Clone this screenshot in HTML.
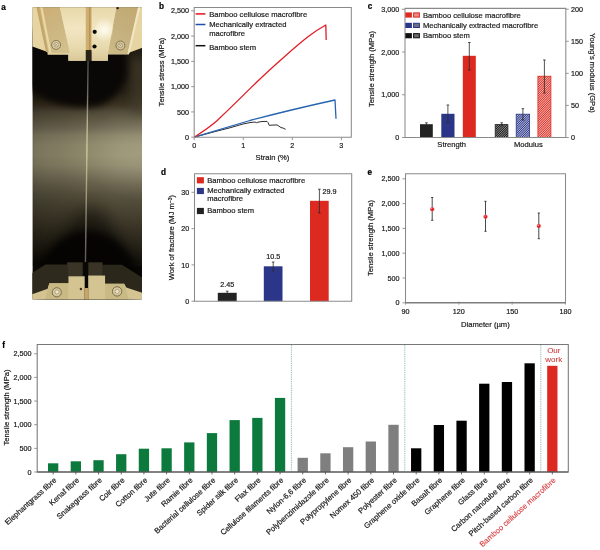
<!DOCTYPE html>
<html lang="en">
<head>
<meta charset="utf-8">
<title>Figure: tensile properties of bamboo cellulose macrofibre</title>
<style>
html,body{margin:0;padding:0;background:#fff;}
body{width:600px;height:550px;overflow:hidden;}
svg{display:block;font-family:"Liberation Sans",Arial,Helvetica,sans-serif;font-size:7.6px;fill:#1a1a1a;}
text{stroke:#1a1a1a;stroke-width:0.2px;}
</style>
</head>
<body>
<svg width="600" height="550" viewBox="0 0 600 550" role="img" aria-label="Mechanical properties of bamboo cellulose macrofibre">
<defs>
<pattern id="hr" width="1.6" height="1.6" patternUnits="userSpaceOnUse" patternTransform="rotate(-45)"><rect width="1.6" height="1.6" fill="#f6c4c0"/><rect width="1.6" height="0.85" fill="#dc2a20"/></pattern>
<pattern id="hb" width="1.6" height="1.6" patternUnits="userSpaceOnUse" patternTransform="rotate(-45)"><rect width="1.6" height="1.6" fill="#c3c6e2"/><rect width="1.6" height="0.85" fill="#2b3688"/></pattern>
<pattern id="hk" width="1.6" height="1.6" patternUnits="userSpaceOnUse" patternTransform="rotate(-45)"><rect width="1.6" height="1.6" fill="#a8a8a8"/><rect width="1.6" height="0.95" fill="#161616"/></pattern>
<clipPath id="pc"><rect x="32.4" y="7.2" width="109.6" height="292.4"/></clipPath>
<linearGradient id="pbg" x1="0" y1="7.2" x2="0" y2="299.6" gradientUnits="userSpaceOnUse">
<stop offset="0.000" stop-color="#1a150c"/>
<stop offset="0.249" stop-color="#1a150c"/>
<stop offset="0.290" stop-color="#1f190f"/>
<stop offset="0.317" stop-color="#2a2416"/>
<stop offset="0.334" stop-color="#352c1d"/>
<stop offset="0.358" stop-color="#4c4635"/>
<stop offset="0.386" stop-color="#5d5742"/>
<stop offset="0.413" stop-color="#6c6652"/>
<stop offset="0.437" stop-color="#807a60"/>
<stop offset="0.471" stop-color="#8d876a"/>
<stop offset="0.505" stop-color="#8f896b"/>
<stop offset="0.540" stop-color="#878165"/>
<stop offset="0.574" stop-color="#756f58"/>
<stop offset="0.608" stop-color="#635d48"/>
<stop offset="0.642" stop-color="#534e3b"/>
<stop offset="0.676" stop-color="#484331"/>
<stop offset="0.728" stop-color="#3a3425"/>
<stop offset="0.769" stop-color="#2d281b"/>
<stop offset="0.830" stop-color="#1a170e"/>
<stop offset="0.871" stop-color="#0c0a06"/>
<stop offset="1.000" stop-color="#0a0805"/>
</linearGradient>
<linearGradient id="pfib" x1="0" y1="58" x2="0" y2="275" gradientUnits="userSpaceOnUse">
<stop offset="0" stop-color="#4c4c4c"/>
<stop offset="0.15" stop-color="#666664"/>
<stop offset="0.22" stop-color="#8a8676"/>
<stop offset="0.3" stop-color="#bcb290"/>
<stop offset="0.42" stop-color="#d2c6a0"/>
<stop offset="0.56" stop-color="#b4a882"/>
<stop offset="0.66" stop-color="#9a9074"/>
<stop offset="0.76" stop-color="#807868"/>
<stop offset="0.86" stop-color="#6a6462"/>
<stop offset="1" stop-color="#5a5654"/>
</linearGradient>
<linearGradient id="pside" x1="32.4" y1="0" x2="142" y2="0" gradientUnits="userSpaceOnUse">
<stop offset="0" stop-color="#000" stop-opacity="0.24"/>
<stop offset="0.02" stop-color="#000" stop-opacity="0.16"/>
<stop offset="0.115" stop-color="#000" stop-opacity="0.12"/>
<stop offset="0.27" stop-color="#000" stop-opacity="0.08"/>
<stop offset="0.5" stop-color="#000" stop-opacity="0"/>
<stop offset="0.5" stop-color="#fff8d8" stop-opacity="0"/>
<stop offset="0.75" stop-color="#fff8d8" stop-opacity="0.035"/>
<stop offset="1" stop-color="#fff8d8" stop-opacity="0.035"/>
</linearGradient>
<radialGradient id="prh" cx="0" cy="0" r="1" gradientUnits="userSpaceOnUse" gradientTransform="translate(146 153) scale(64 48)">
<stop offset="0" stop-color="#fff8d8" stop-opacity="0.15"/>
<stop offset="0.35" stop-color="#fff8d8" stop-opacity="0.12"/>
<stop offset="0.7" stop-color="#fff8d8" stop-opacity="0.05"/>
<stop offset="1" stop-color="#fff8d8" stop-opacity="0"/>
</radialGradient>
<linearGradient id="pjaw" x1="0" y1="7" x2="0" y2="61" gradientUnits="userSpaceOnUse">
<stop offset="0" stop-color="#e8d8aa"/>
<stop offset="0.4" stop-color="#f2e6c2"/>
<stop offset="0.75" stop-color="#e8daae"/>
<stop offset="1" stop-color="#d9c898"/>
</linearGradient>
<radialGradient id="phl" cx="104" cy="30" r="12" gradientUnits="userSpaceOnUse">
<stop offset="0" stop-color="#fffdf0" stop-opacity="0.95"/>
<stop offset="1" stop-color="#fffdf0" stop-opacity="0"/>
</radialGradient>
<filter id="pbl" color-interpolation-filters="sRGB" x="-5%" y="-5%" width="110%" height="110%"><feGaussianBlur stdDeviation="0.45"/></filter>
<linearGradient id="ppl" x1="40" y1="7" x2="70" y2="54" gradientUnits="userSpaceOnUse">
<stop offset="0" stop-color="#cdae74"/>
<stop offset="0.5" stop-color="#ccb682"/>
<stop offset="1" stop-color="#d3c28f"/>
</linearGradient>
<linearGradient id="ppr" x1="138" y1="7" x2="108" y2="54" gradientUnits="userSpaceOnUse">
<stop offset="0" stop-color="#c2a870"/>
<stop offset="0.5" stop-color="#c4b07e"/>
<stop offset="1" stop-color="#cdbb88"/>
</linearGradient>
<filter id="pbl3" color-interpolation-filters="sRGB" x="-40%" y="-40%" width="180%" height="180%"><feGaussianBlur stdDeviation="8"/></filter>
<filter id="pbl4" color-interpolation-filters="sRGB" x="-30%" y="-30%" width="160%" height="160%"><feGaussianBlur stdDeviation="3"/></filter>
<filter id="pbl5" color-interpolation-filters="sRGB" x="-30%" y="-30%" width="160%" height="160%"><feGaussianBlur stdDeviation="4.5"/></filter>

</defs>
<rect width="600" height="550" fill="#fff"/>
<text x="1.20" y="9.60" font-weight="bold" fill="#000" style="stroke:#000;stroke-width:0.22px" font-size="8.2" >a</text>
<text x="159.00" y="8.70" font-weight="bold" fill="#000" style="stroke:#000;stroke-width:0.22px" font-size="8.2" >b</text>
<text x="367.80" y="8.70" font-weight="bold" fill="#000" style="stroke:#000;stroke-width:0.22px" font-size="8.2" >c</text>
<text x="160.90" y="174.80" font-weight="bold" fill="#000" style="stroke:#000;stroke-width:0.22px" font-size="8.2" >d</text>
<text x="367.40" y="174.60" font-weight="bold" fill="#000" style="stroke:#000;stroke-width:0.22px" font-size="8.2" >e</text>
<text x="2.30" y="347.90" font-weight="bold" fill="#000" style="stroke:#000;stroke-width:0.22px" font-size="8.2" >f</text>
<g clip-path="url(#pc)">
<rect x="32.4" y="7.2" width="109.6" height="292.4" fill="url(#pbg)"/>
<rect x="32.4" y="46" width="109.6" height="220" fill="url(#pside)"/>
<rect x="82" y="100" width="60" height="106" fill="url(#prh)"/>
<rect x="130" y="58" width="20" height="56" fill="#463f2e" opacity="0.6" filter="url(#pbl5)"/>
<path d="M28 30 V86 Q45 107 88 107 Q116 106 127 76 V30 Z" fill="#0a0806" filter="url(#pbl4)"/>
<ellipse cx="91" cy="290" rx="34" ry="82" fill="#050403" opacity="0.5" filter="url(#pbl3)"/>
<ellipse cx="88" cy="290" rx="52" ry="59" fill="#050403" filter="url(#pbl5)"/>
<g filter="url(#pbl)">
<!-- fibre -->
<path d="M87.4 58 L84.6 274 L86.0 274 L88.8 58 Z" fill="url(#pfib)"/>
<!-- top clamp: outer cream -->
<path d="M31 6 H143 V47.6 L129.6 52.5 L129 54.5 L108 54.5 L107.8 60.7 L91.5 60.7 L91.5 52 L85.8 52 L85.8 60.7 L68.4 60.7 L68.4 54.7 L47.6 54.7 L47.6 52 L31 46 Z" fill="#e6d4a2"/>
<!-- angled plates -->
<path d="M41 6 L59.6 6 L70 53.5 L47.6 53 L38 6 Z" fill="url(#ppl)"/>
<path d="M40 6 L42.2 6 L51.5 53 L49.3 53 Z" fill="#ead8a4"/>
<path d="M36.2 6 L38.6 6 L48.2 52 L46 52 Z" fill="#c4a468"/>
<path d="M116.5 6 L138.4 6 L127.5 54 L107.8 54 Z" fill="url(#ppr)"/>
<path d="M138.4 6 L140.6 6 L130 52 L127.5 54 Z" fill="#f0e6c4"/>
<!-- central jaws -->
<path d="M59.6 6 L85.8 6 L85.8 60.7 L68.4 60.7 L68.4 53 L70 53 Z" fill="url(#pjaw)"/>
<path d="M91.5 6 L116.5 6 L107.8 54 L107.8 60.7 L91.5 60.7 Z" fill="url(#pjaw)"/>
<rect x="85.8" y="6" width="5.7" height="50" fill="#cfae70"/>
<rect x="89.3" y="6" width="1" height="50" fill="#a88a50"/>
<rect x="85.8" y="50" width="5.7" height="11" fill="#2a2418"/>
<ellipse cx="104" cy="30" rx="9" ry="13" fill="url(#phl)"/>
<ellipse cx="76" cy="30" rx="9" ry="16" fill="url(#phl)" transform="translate(-28 0)" opacity="0.6"/>
<!-- holes -->
<circle cx="94.7" cy="31.8" r="2.1" fill="#0c0a06"/>
<circle cx="94.5" cy="46.5" r="2.1" fill="#0c0a06"/>
<circle cx="117.6" cy="8" r="1.2" fill="#1a160c"/>
<!-- screws -->
<circle cx="56.1" cy="44.9" r="4.5" fill="#d6caa2" stroke="#8c7a50" stroke-width="1"/>
<circle cx="56.3" cy="44.8" r="2.3" fill="#ece2c4" stroke="#9a8a60" stroke-width="0.7"/>
<path d="M55 43.6 L57.6 46 M57.4 43.6 L55.2 46" stroke="#8c7a50" stroke-width="0.6" fill="none"/>
<circle cx="120.4" cy="45.5" r="4.5" fill="#d0c49c" stroke="#85744a" stroke-width="1"/>
<circle cx="120.2" cy="45.4" r="2.3" fill="#ece2c4" stroke="#9a8a60" stroke-width="0.7"/>
<path d="M119 44.2 L121.6 46.6 M121.4 44.2 L119.2 46.6" stroke="#85744a" stroke-width="0.6" fill="none"/>
<!-- shadow under top clamp edge -->
<!-- bottom dark blocks -->
<path d="M32 273 L45.5 264.4 L67.3 264.4 L67.3 262.5 L82.8 262.5 L82.8 276.2 L68.4 276.2 L68.4 283.3 L49.3 283.3 L47.6 288.7 L32 294.2 Z" fill="#2e2a1e"/>
<path d="M88.2 262.5 L102.4 262.5 L102.4 264.7 L122 264.7 L143 278 L143 293 L126.4 287.6 L124.2 283.8 L105.1 283.8 L105.1 275.6 L88.2 275.6 Z" fill="#2b271b"/>
<path d="M67.3 262.5 H82.8 V276.2 H68.4 Z" fill="#3a3427"/>
<path d="M88.2 262.5 H102.4 V275.6 H88.2 Z" fill="#3a3427"/>
<rect x="82.8" y="262" width="5.4" height="38" fill="#0a0805"/>
<!-- bottom beige -->
<path d="M32 294.2 L47.6 288.7 L49.3 283.3 L68.4 283.3 L68.4 276.2 L84.7 276.2 L84.7 300 L32 300 Z" fill="#d4c492"/>
<path d="M88.2 275.6 L105.1 275.6 L105.1 283.8 L124.2 283.8 L126.4 287.6 L143 293 L143 300 L88.2 300 Z" fill="#d4c492"/>
<path d="M49.3 283.3 H68.4 V300 H45 Z" fill="#c9b985"/>
<path d="M105.1 283.8 H124.2 L129 300 H105.1 Z" fill="#c9b985"/>
<rect x="84.7" y="288" width="3.5" height="12" fill="#c9a468"/>
<circle cx="56.8" cy="292.3" r="4.6" fill="#d4c8a0" stroke="#7c6c48" stroke-width="1"/>
<circle cx="57" cy="292" r="2" fill="#f0e8cc" stroke="#9a8a60" stroke-width="0.6"/>
<circle cx="117.1" cy="291.4" r="4.7" fill="#d4c8a0" stroke="#7c6c48" stroke-width="1"/>
<circle cx="117.1" cy="291.5" r="2" fill="#f0e8cc" stroke="#9a8a60" stroke-width="0.6"/>
<circle cx="80.9" cy="289" r="1.2" fill="#3a3020"/>
</g>
</g>

<path d="M194.2 137.2 L215 131.6 L230 127.8 L243 124 L250 122.6 L255 122 L256.5 122.7 L258 122.2 L262 121.5 L267 121.4 L268 122.5 L269.2 125.3 L271 125.2 L277 124.9 L279 126.2 L281 127.6 L283 128 L285.6 129.3" fill="none" stroke="#2e2e2e" stroke-width="1" stroke-linejoin="round"/>
<path d="M194.2 137.2 C215 131 235 125 250 120.5 C280 112.5 310 105.5 335 100 L336 118.7" fill="none" stroke="#2763b0" stroke-width="1.3" stroke-linejoin="round"/>
<path d="M194.2 137.2 C203 131.6 210 126.8 216.7 121 C228 110.2 240 98.6 250 88.6 C262 77 272 67.6 283.3 57.8 C292 50 300 43 308.3 36.6 C314 32 320 28.2 325.8 25 L326.2 40" fill="none" stroke="#e01c26" stroke-width="1.3" stroke-linejoin="round"/>
<path d="M194.20 137.20V7.50M194.20 7.50H351.30M351.30 7.50V137.20M194.20 137.20H351.30" fill="none" stroke="#8a8a8a" stroke-width="1.05" stroke-linecap="square"/>
<line x1="191.20" y1="137.20" x2="194.20" y2="137.20" stroke="#8a8a8a" stroke-width="0.9" />
<text x="189.00" y="139.80" text-anchor="end" font-size="7.2" >0</text>
<line x1="191.20" y1="111.92" x2="194.20" y2="111.92" stroke="#8a8a8a" stroke-width="0.9" />
<text x="189.00" y="114.52" text-anchor="end" font-size="7.2" >500</text>
<line x1="191.20" y1="86.64" x2="194.20" y2="86.64" stroke="#8a8a8a" stroke-width="0.9" />
<text x="189.00" y="89.24" text-anchor="end" font-size="7.2" >1,000</text>
<line x1="191.20" y1="61.36" x2="194.20" y2="61.36" stroke="#8a8a8a" stroke-width="0.9" />
<text x="189.00" y="63.96" text-anchor="end" font-size="7.2" >1,500</text>
<line x1="191.20" y1="36.08" x2="194.20" y2="36.08" stroke="#8a8a8a" stroke-width="0.9" />
<text x="189.00" y="38.68" text-anchor="end" font-size="7.2" >2,000</text>
<line x1="191.20" y1="10.80" x2="194.20" y2="10.80" stroke="#8a8a8a" stroke-width="0.9" />
<text x="189.00" y="13.40" text-anchor="end" font-size="7.2" >2,500</text>
<line x1="194.20" y1="137.20" x2="194.20" y2="140.20" stroke="#8a8a8a" stroke-width="0.9" />
<text x="194.20" y="147.50" text-anchor="middle" font-size="7.2" >0</text>
<line x1="243.25" y1="137.20" x2="243.25" y2="140.20" stroke="#8a8a8a" stroke-width="0.9" />
<text x="243.25" y="147.50" text-anchor="middle" font-size="7.2" >1</text>
<line x1="292.30" y1="137.20" x2="292.30" y2="140.20" stroke="#8a8a8a" stroke-width="0.9" />
<text x="292.30" y="147.50" text-anchor="middle" font-size="7.2" >2</text>
<line x1="341.35" y1="137.20" x2="341.35" y2="140.20" stroke="#8a8a8a" stroke-width="0.9" />
<text x="341.35" y="147.50" text-anchor="middle" font-size="7.2" >3</text>
<text transform="translate(164.40 72.00) rotate(-90)" text-anchor="middle" >Tensile stress (MPa)</text>
<text x="272.50" y="159.60" text-anchor="middle" >Strain (%)</text>
<line x1="195.60" y1="13.90" x2="205.40" y2="13.90" stroke="#e3141e" stroke-width="1.5" />
<line x1="195.60" y1="24.50" x2="205.40" y2="24.50" stroke="#1e4ea6" stroke-width="1.5" />
<line x1="195.60" y1="45.70" x2="205.40" y2="45.70" stroke="#111" stroke-width="1.5" />
<text x="209.20" y="16.80" >Bamboo cellulose macrofibre</text>
<text x="209.20" y="27.20" >Mechanically extracted</text>
<text x="209.20" y="36.30" >macrofibre</text>
<text x="209.20" y="49.50" >Bamboo stem</text>
<rect x="420.00" y="124.20" width="12.80" height="13.30" fill="#232323" />
<rect x="441.30" y="113.80" width="13.20" height="23.70" fill="#2b3688" />
<rect x="462.80" y="55.80" width="13.00" height="81.70" fill="#dc2a20" />
<rect x="495.20" y="124.60" width="12.70" height="12.90" fill="url(#hk)" stroke="#222" stroke-width="0.8"/>
<rect x="516.20" y="114.20" width="13.40" height="23.30" fill="url(#hb)" stroke="#2b3688" stroke-width="0.8"/>
<rect x="537.90" y="76.20" width="13.00" height="61.30" fill="url(#hr)" stroke="#dc2a20" stroke-width="0.8"/>
<path d="M426.40 122.80V125.80M425.10 122.80h2.60M425.10 125.80h2.60" fill="none" stroke="#2a2a2a" stroke-width="0.8"/>
<path d="M447.90 105.00V122.50M446.60 105.00h2.60M446.60 122.50h2.60" fill="none" stroke="#2a2a2a" stroke-width="0.8"/>
<path d="M469.30 42.50V70.00M468.00 42.50h2.60M468.00 70.00h2.60" fill="none" stroke="#2a2a2a" stroke-width="0.8"/>
<path d="M501.70 122.80V125.60M500.40 122.80h2.60M500.40 125.60h2.60" fill="none" stroke="#2a2a2a" stroke-width="0.8"/>
<path d="M522.90 108.70V120.00M521.60 108.70h2.60M521.60 120.00h2.60" fill="none" stroke="#2a2a2a" stroke-width="0.8"/>
<path d="M544.40 60.00V93.00M543.10 60.00h2.60M543.10 93.00h2.60" fill="none" stroke="#2a2a2a" stroke-width="0.8"/>
<path d="M405.00 137.50V8.40M405.00 8.40H565.80M565.80 8.40V137.50M405.00 137.50H565.80" fill="none" stroke="#8a8a8a" stroke-width="1.05" stroke-linecap="square"/>
<line x1="402.00" y1="137.50" x2="405.00" y2="137.50" stroke="#8a8a8a" stroke-width="0.9" />
<text x="399.20" y="140.10" text-anchor="end" font-size="7.2" >0</text>
<line x1="402.00" y1="94.77" x2="405.00" y2="94.77" stroke="#8a8a8a" stroke-width="0.9" />
<text x="399.20" y="97.37" text-anchor="end" font-size="7.2" >1,000</text>
<line x1="402.00" y1="52.03" x2="405.00" y2="52.03" stroke="#8a8a8a" stroke-width="0.9" />
<text x="399.20" y="54.63" text-anchor="end" font-size="7.2" >2,000</text>
<line x1="402.00" y1="9.30" x2="405.00" y2="9.30" stroke="#8a8a8a" stroke-width="0.9" />
<text x="399.20" y="11.90" text-anchor="end" font-size="7.2" >3,000</text>
<line x1="565.80" y1="137.50" x2="568.80" y2="137.50" stroke="#8a8a8a" stroke-width="0.9" />
<text x="570.90" y="140.10" font-size="7.2" >0</text>
<line x1="565.80" y1="105.43" x2="568.80" y2="105.43" stroke="#8a8a8a" stroke-width="0.9" />
<text x="570.90" y="108.03" font-size="7.2" >50</text>
<line x1="565.80" y1="73.36" x2="568.80" y2="73.36" stroke="#8a8a8a" stroke-width="0.9" />
<text x="570.90" y="75.96" font-size="7.2" >100</text>
<line x1="565.80" y1="41.29" x2="568.80" y2="41.29" stroke="#8a8a8a" stroke-width="0.9" />
<text x="570.90" y="43.89" font-size="7.2" >150</text>
<line x1="565.80" y1="9.22" x2="568.80" y2="9.22" stroke="#8a8a8a" stroke-width="0.9" />
<text x="570.90" y="11.82" font-size="7.2" >200</text>
<text transform="translate(374.30 69.00) rotate(-90)" text-anchor="middle" >Tensile strength (MPa)</text>
<text transform="translate(589.80 73.00) rotate(90)" text-anchor="middle" >Young’s modulus (GPa)</text>
<text x="451.70" y="147.30" text-anchor="middle" >Strength</text>
<text x="528.40" y="147.30" text-anchor="middle" >Modulus</text>
<rect x="405.30" y="12.40" width="6.60" height="5.20" fill="#dc2a20" />
<rect x="413.60" y="12.90" width="5.80" height="4.20" fill="#ee8a84" stroke="#dc2a20" stroke-width="1"/>
<rect x="405.30" y="22.80" width="6.60" height="5.20" fill="#2b3688" />
<rect x="413.60" y="23.30" width="5.80" height="4.20" fill="#6d6f86" stroke="#2b3688" stroke-width="1"/>
<rect x="405.30" y="33.10" width="6.60" height="5.20" fill="#111" />
<rect x="413.60" y="33.60" width="5.80" height="4.20" fill="#6a6a6a" stroke="#111" stroke-width="1"/>
<text x="422.90" y="17.60" >Bamboo cellulose macrofibre</text>
<text x="422.90" y="28.00" >Mechanically extracted macrofibre</text>
<text x="422.90" y="38.40" >Bamboo stem</text>
<rect x="217.80" y="292.80" width="18.90" height="8.40" fill="#232323" />
<rect x="263.80" y="266.30" width="18.70" height="34.90" fill="#2b3688" />
<rect x="310.00" y="200.80" width="18.70" height="100.40" fill="#dc2a20" />
<path d="M227.20 291.20V294.40M225.90 291.20h2.60M225.90 294.40h2.60" fill="none" stroke="#2a2a2a" stroke-width="0.8"/>
<path d="M273.20 262.00V270.80M271.90 262.00h2.60M271.90 270.80h2.60" fill="none" stroke="#2a2a2a" stroke-width="0.8"/>
<path d="M319.40 189.20V213.00M318.10 189.20h2.60M318.10 213.00h2.60" fill="none" stroke="#2a2a2a" stroke-width="0.8"/>
<path d="M194.50 301.20V173.80M194.50 173.80H351.70M351.70 173.80V301.20M194.50 301.20H351.70" fill="none" stroke="#8a8a8a" stroke-width="1.05" stroke-linecap="square"/>
<line x1="191.50" y1="301.20" x2="194.50" y2="301.20" stroke="#8a8a8a" stroke-width="0.9" />
<text x="189.30" y="303.80" text-anchor="end" font-size="7.2" >0</text>
<line x1="191.50" y1="264.90" x2="194.50" y2="264.90" stroke="#8a8a8a" stroke-width="0.9" />
<text x="189.30" y="267.50" text-anchor="end" font-size="7.2" >10</text>
<line x1="191.50" y1="228.60" x2="194.50" y2="228.60" stroke="#8a8a8a" stroke-width="0.9" />
<text x="189.30" y="231.20" text-anchor="end" font-size="7.2" >20</text>
<line x1="191.50" y1="192.30" x2="194.50" y2="192.30" stroke="#8a8a8a" stroke-width="0.9" />
<text x="189.30" y="194.90" text-anchor="end" font-size="7.2" >30</text>
<text transform="translate(174.40 237.50) rotate(-90)" text-anchor="middle" >Work of fracture (MJ m<tspan dy="-2.6" font-size="5">−3</tspan><tspan dy="2.6">)</tspan></text>
<text x="227.30" y="287.00" text-anchor="middle" font-size="7.2" >2.45</text>
<text x="273.20" y="259.20" text-anchor="middle" font-size="7.2" >10.5</text>
<text x="322.50" y="193.80" font-size="7.2" >29.9</text>
<rect x="196.90" y="177.20" width="7.00" height="6.20" fill="#dc2a20" />
<rect x="196.90" y="187.90" width="7.00" height="6.20" fill="#2b3688" />
<rect x="196.90" y="207.90" width="7.00" height="6.20" fill="#232323" />
<text x="207.20" y="183.10" >Bamboo cellulose macrofibre</text>
<text x="207.20" y="193.40" >Mechanically extracted</text>
<text x="207.20" y="201.30" >macrofibre</text>
<text x="207.20" y="213.40" >Bamboo stem</text>
<path d="M405.50 302.80V173.80M405.50 173.80H565.50M565.50 173.80V302.80M405.50 302.80H565.50" fill="none" stroke="#8a8a8a" stroke-width="1.05" stroke-linecap="square"/>
<line x1="405.50" y1="302.80" x2="565.50" y2="302.80" stroke="#6a6a6a" stroke-width="1.0" />
<line x1="402.50" y1="302.80" x2="405.50" y2="302.80" stroke="#8a8a8a" stroke-width="0.9" />
<text x="399.50" y="305.40" text-anchor="end" font-size="7.2" >0</text>
<line x1="402.50" y1="278.00" x2="405.50" y2="278.00" stroke="#8a8a8a" stroke-width="0.9" />
<text x="399.50" y="280.60" text-anchor="end" font-size="7.2" >500</text>
<line x1="402.50" y1="253.20" x2="405.50" y2="253.20" stroke="#8a8a8a" stroke-width="0.9" />
<text x="399.50" y="255.80" text-anchor="end" font-size="7.2" >1,000</text>
<line x1="402.50" y1="228.40" x2="405.50" y2="228.40" stroke="#8a8a8a" stroke-width="0.9" />
<text x="399.50" y="231.00" text-anchor="end" font-size="7.2" >1,500</text>
<line x1="402.50" y1="203.60" x2="405.50" y2="203.60" stroke="#8a8a8a" stroke-width="0.9" />
<text x="399.50" y="206.20" text-anchor="end" font-size="7.2" >2,000</text>
<line x1="402.50" y1="178.80" x2="405.50" y2="178.80" stroke="#8a8a8a" stroke-width="0.9" />
<text x="399.50" y="181.40" text-anchor="end" font-size="7.2" >2,500</text>
<line x1="405.50" y1="301.60" x2="405.50" y2="304.60" stroke="#8a8a8a" stroke-width="0.9" />
<text x="405.50" y="314.20" text-anchor="middle" font-size="7.2" >90</text>
<line x1="458.83" y1="301.60" x2="458.83" y2="304.60" stroke="#8a8a8a" stroke-width="0.9" />
<text x="458.83" y="314.20" text-anchor="middle" font-size="7.2" >120</text>
<line x1="512.16" y1="301.60" x2="512.16" y2="304.60" stroke="#8a8a8a" stroke-width="0.9" />
<text x="512.16" y="314.20" text-anchor="middle" font-size="7.2" >150</text>
<line x1="565.49" y1="301.60" x2="565.49" y2="304.60" stroke="#8a8a8a" stroke-width="0.9" />
<text x="565.49" y="314.20" text-anchor="middle" font-size="7.2" >180</text>
<text transform="translate(373.20 238.00) rotate(-90)" text-anchor="middle" >Tensile strength (MPa)</text>
<text x="485.40" y="327.00" text-anchor="middle" >Diameter (µm)</text>
<path d="M432.20 197.50V220.30M431.10 197.50h2.20M431.10 220.30h2.20" fill="none" stroke="#333" stroke-width="0.9"/>
<circle cx="432.2" cy="209.2" r="2.0" fill="#e3141c" stroke="#f29a9a" stroke-width="0.4"/>
<circle cx="431.7" cy="208.6" r="0.6" fill="#fff" opacity="0.75"/>
<path d="M485.50 201.30V231.30M484.40 201.30h2.20M484.40 231.30h2.20" fill="none" stroke="#333" stroke-width="0.9"/>
<circle cx="485.5" cy="216.7" r="2.0" fill="#e3141c" stroke="#f29a9a" stroke-width="0.4"/>
<circle cx="485.0" cy="216.1" r="0.6" fill="#fff" opacity="0.75"/>
<path d="M538.80 213.00V238.70M537.70 213.00h2.20M537.70 238.70h2.20" fill="none" stroke="#333" stroke-width="0.9"/>
<circle cx="538.8" cy="226" r="2.0" fill="#e3141c" stroke="#f29a9a" stroke-width="0.4"/>
<circle cx="538.3" cy="225.4" r="0.6" fill="#fff" opacity="0.75"/>
<rect x="48.00" y="463.30" width="10.30" height="8.70" fill="#0d7a3d" />
<rect x="70.69" y="461.30" width="10.30" height="10.70" fill="#0d7a3d" />
<rect x="93.38" y="460.20" width="10.30" height="11.80" fill="#0d7a3d" />
<rect x="116.07" y="454.20" width="10.30" height="17.80" fill="#0d7a3d" />
<rect x="138.76" y="448.70" width="10.30" height="23.30" fill="#0d7a3d" />
<rect x="161.45" y="448.30" width="10.30" height="23.70" fill="#0d7a3d" />
<rect x="184.14" y="442.40" width="10.30" height="29.60" fill="#0d7a3d" />
<rect x="206.83" y="433.10" width="10.30" height="38.90" fill="#0d7a3d" />
<rect x="229.52" y="420.10" width="10.30" height="51.90" fill="#0d7a3d" />
<rect x="252.21" y="417.90" width="10.30" height="54.10" fill="#0d7a3d" />
<rect x="274.90" y="397.90" width="10.30" height="74.10" fill="#0d7a3d" />
<rect x="297.59" y="457.80" width="10.30" height="14.20" fill="#7f7f7f" />
<rect x="320.28" y="453.30" width="10.30" height="18.70" fill="#7f7f7f" />
<rect x="342.97" y="447.20" width="10.30" height="24.80" fill="#7f7f7f" />
<rect x="365.66" y="441.50" width="10.30" height="30.50" fill="#7f7f7f" />
<rect x="388.35" y="424.80" width="10.30" height="47.20" fill="#7f7f7f" />
<rect x="411.04" y="448.30" width="10.30" height="23.70" fill="#000" />
<rect x="433.73" y="425.00" width="10.30" height="47.00" fill="#000" />
<rect x="456.42" y="420.70" width="10.30" height="51.30" fill="#000" />
<rect x="479.11" y="383.70" width="10.30" height="88.30" fill="#000" />
<rect x="501.80" y="382.00" width="10.30" height="90.00" fill="#000" />
<rect x="524.49" y="363.30" width="10.30" height="108.70" fill="#000" />
<rect x="547.18" y="365.80" width="10.30" height="106.20" fill="#dc2a20" />
<line x1="291.40" y1="345.00" x2="291.40" y2="471.50" stroke="#6fae9c" stroke-width="0.8" stroke-dasharray="1 0.8"/>
<line x1="404.80" y1="345.00" x2="404.80" y2="471.50" stroke="#6fae9c" stroke-width="0.8" stroke-dasharray="1 0.8"/>
<line x1="540.80" y1="345.00" x2="540.80" y2="471.50" stroke="#6fae9c" stroke-width="0.8" stroke-dasharray="1 0.8"/>
<path d="M37.20 472.00V344.50M37.20 344.50H568.30M568.30 344.50V472.00M37.20 472.00H568.30" fill="none" stroke="#777" stroke-width="1.05" stroke-linecap="square"/>
<line x1="37.20" y1="472.00" x2="568.30" y2="472.00" stroke="#4a4a4a" stroke-width="1.0" />
<line x1="34.20" y1="472.00" x2="37.20" y2="472.00" stroke="#8a8a8a" stroke-width="0.9" />
<text x="31.50" y="474.60" text-anchor="end" font-size="7.2" >0</text>
<line x1="34.20" y1="448.35" x2="37.20" y2="448.35" stroke="#8a8a8a" stroke-width="0.9" />
<text x="31.50" y="450.95" text-anchor="end" font-size="7.2" >500</text>
<line x1="34.20" y1="424.70" x2="37.20" y2="424.70" stroke="#8a8a8a" stroke-width="0.9" />
<text x="31.50" y="427.30" text-anchor="end" font-size="7.2" >1,000</text>
<line x1="34.20" y1="401.05" x2="37.20" y2="401.05" stroke="#8a8a8a" stroke-width="0.9" />
<text x="31.50" y="403.65" text-anchor="end" font-size="7.2" >1,500</text>
<line x1="34.20" y1="377.40" x2="37.20" y2="377.40" stroke="#8a8a8a" stroke-width="0.9" />
<text x="31.50" y="380.00" text-anchor="end" font-size="7.2" >2,000</text>
<line x1="34.20" y1="353.75" x2="37.20" y2="353.75" stroke="#8a8a8a" stroke-width="0.9" />
<text x="31.50" y="356.35" text-anchor="end" font-size="7.2" >2,500</text>
<line x1="53.15" y1="472.00" x2="53.15" y2="474.40" stroke="#444" stroke-width="0.8" />
<text transform="translate(57.05 481.00) rotate(-42)" text-anchor="end" font-size="7.7" >Elephantgrass fibre</text>
<line x1="75.84" y1="472.00" x2="75.84" y2="474.40" stroke="#444" stroke-width="0.8" />
<text transform="translate(79.74 481.00) rotate(-42)" text-anchor="end" font-size="7.7" >Kenaf fibre</text>
<line x1="98.53" y1="472.00" x2="98.53" y2="474.40" stroke="#444" stroke-width="0.8" />
<text transform="translate(102.43 481.00) rotate(-42)" text-anchor="end" font-size="7.7" >Snakegrass fibre</text>
<line x1="121.22" y1="472.00" x2="121.22" y2="474.40" stroke="#444" stroke-width="0.8" />
<text transform="translate(125.12 481.00) rotate(-42)" text-anchor="end" font-size="7.7" >Coir fibre</text>
<line x1="143.91" y1="472.00" x2="143.91" y2="474.40" stroke="#444" stroke-width="0.8" />
<text transform="translate(147.81 481.00) rotate(-42)" text-anchor="end" font-size="7.7" >Cotton fibre</text>
<line x1="166.60" y1="472.00" x2="166.60" y2="474.40" stroke="#444" stroke-width="0.8" />
<text transform="translate(170.50 481.00) rotate(-42)" text-anchor="end" font-size="7.7" >Jute fibre</text>
<line x1="189.29" y1="472.00" x2="189.29" y2="474.40" stroke="#444" stroke-width="0.8" />
<text transform="translate(193.19 481.00) rotate(-42)" text-anchor="end" font-size="7.7" >Ramie fibre</text>
<line x1="211.98" y1="472.00" x2="211.98" y2="474.40" stroke="#444" stroke-width="0.8" />
<text transform="translate(215.88 481.00) rotate(-42)" text-anchor="end" font-size="7.7" >Bacterial cellulose fibre</text>
<line x1="234.67" y1="472.00" x2="234.67" y2="474.40" stroke="#444" stroke-width="0.8" />
<text transform="translate(238.57 481.00) rotate(-42)" text-anchor="end" font-size="7.7" >Spider silk fibre</text>
<line x1="257.36" y1="472.00" x2="257.36" y2="474.40" stroke="#444" stroke-width="0.8" />
<text transform="translate(261.26 481.00) rotate(-42)" text-anchor="end" font-size="7.7" >Flax fibre</text>
<line x1="280.05" y1="472.00" x2="280.05" y2="474.40" stroke="#444" stroke-width="0.8" />
<text transform="translate(283.95 481.00) rotate(-42)" text-anchor="end" font-size="7.7" >Cellulose filaments fibre</text>
<line x1="302.74" y1="472.00" x2="302.74" y2="474.40" stroke="#444" stroke-width="0.8" />
<text transform="translate(306.64 481.00) rotate(-42)" text-anchor="end" font-size="7.7" >Nylon-6,6 fibre</text>
<line x1="325.43" y1="472.00" x2="325.43" y2="474.40" stroke="#444" stroke-width="0.8" />
<text transform="translate(329.33 481.00) rotate(-42)" text-anchor="end" font-size="7.7" >Polybenzimidazole fibre</text>
<line x1="348.12" y1="472.00" x2="348.12" y2="474.40" stroke="#444" stroke-width="0.8" />
<text transform="translate(352.02 481.00) rotate(-42)" text-anchor="end" font-size="7.7" >Polypropylene fibre</text>
<line x1="370.81" y1="472.00" x2="370.81" y2="474.40" stroke="#444" stroke-width="0.8" />
<text transform="translate(374.71 481.00) rotate(-42)" text-anchor="end" font-size="7.7" >Nomex 450 fibre</text>
<line x1="393.50" y1="472.00" x2="393.50" y2="474.40" stroke="#444" stroke-width="0.8" />
<text transform="translate(397.40 481.00) rotate(-42)" text-anchor="end" font-size="7.7" >Polyester fibre</text>
<line x1="416.19" y1="472.00" x2="416.19" y2="474.40" stroke="#444" stroke-width="0.8" />
<text transform="translate(420.09 481.00) rotate(-42)" text-anchor="end" font-size="7.7" >Graphene oxide fibre</text>
<line x1="438.88" y1="472.00" x2="438.88" y2="474.40" stroke="#444" stroke-width="0.8" />
<text transform="translate(442.78 481.00) rotate(-42)" text-anchor="end" font-size="7.7" >Basalt fibre</text>
<line x1="461.57" y1="472.00" x2="461.57" y2="474.40" stroke="#444" stroke-width="0.8" />
<text transform="translate(465.47 481.00) rotate(-42)" text-anchor="end" font-size="7.7" >Graphene fibre</text>
<line x1="484.26" y1="472.00" x2="484.26" y2="474.40" stroke="#444" stroke-width="0.8" />
<text transform="translate(488.16 481.00) rotate(-42)" text-anchor="end" font-size="7.7" >Glass fibre</text>
<line x1="506.95" y1="472.00" x2="506.95" y2="474.40" stroke="#444" stroke-width="0.8" />
<text transform="translate(510.85 481.00) rotate(-42)" text-anchor="end" font-size="7.7" >Carbon nanotube fibre</text>
<line x1="529.64" y1="472.00" x2="529.64" y2="474.40" stroke="#444" stroke-width="0.8" />
<text transform="translate(533.54 481.00) rotate(-42)" text-anchor="end" font-size="7.7" >Pitch-based carbon fibre</text>
<line x1="552.33" y1="472.00" x2="552.33" y2="474.40" stroke="#444" stroke-width="0.8" />
<text transform="translate(556.23 481.00) rotate(-42)" text-anchor="end" fill="#d8383a" style="stroke:#d8383a;stroke-width:0.1px" font-size="7.7" >Bamboo cellulose macrofibre</text>
<text transform="translate(8.60 407.50) rotate(-90)" text-anchor="middle" >Tensile strength (MPa)</text>
<text x="553.80" y="353.00" text-anchor="middle" fill="#cc3333" style="stroke:#cc3333;stroke-width:0.05px" font-size="8.0" >Our</text>
<text x="553.80" y="362.20" text-anchor="middle" fill="#cc3333" style="stroke:#cc3333;stroke-width:0.05px" font-size="8.0" >work</text>
</svg>
</body>
</html>
